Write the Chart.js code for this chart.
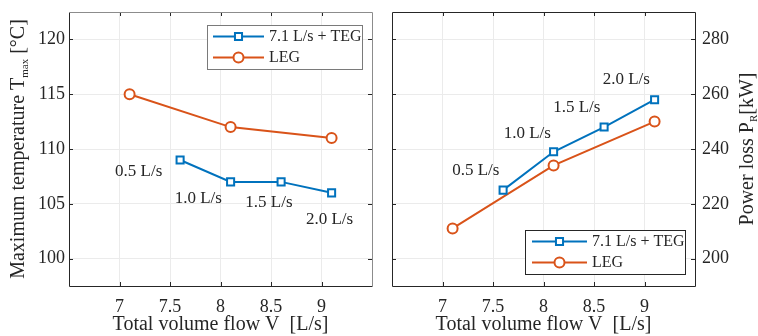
<!DOCTYPE html>
<html>
<head>
<meta charset="utf-8">
<script src="https://cdn.jsdelivr.net/npm/chart.js@4"></script>
<style>
  body { margin: 0; background: #fff; }
  #wrap { position: relative; width: 758px; height: 336px; }
  canvas { position: absolute; top: 0; }
</style>
</head>
<body>
<div id="wrap">
  <canvas id="tempChart" width="380" height="336" style="left:0"></canvas>
  <canvas id="powerChart" width="378" height="336" style="left:380px"></canvas>
</div>
<script>
// data
var xTicks = [7, 7.5, 8, 8.5, 9];
var tempTicks = [100, 105, 110, 115, 120];
var powerTicks = [200, 220, 240, 260, 280];
var tegFlow = [7.6, 8.1, 8.6, 9.1];
var legFlow = [7.1, 8.1, 9.1];
var tegTemp = [109, 107, 107, 106];
var legTemp = [115, 112, 111];
var tegPower = [225, 239, 248, 258];
var legPower = [211, 234, 250];
var extraFlow = ['0.5 L/s', '1.0 L/s', '1.5 L/s', '2.0 L/s'];
var seriesNames = ['7.1 L/s + TEG', 'LEG'];

var FONT = '"Liberation Serif", "DejaVu Serif", serif';
var INK = '#262626';
var BLUE = '#0072BD';
var ORANGE = '#D95319';

function pairs(xs, ys) {
  return xs.map(function (x, i) { return { x: x, y: ys[i] }; });
}

// draw text made of parts, some of them subscripts
function drawRich(ctx, parts, cx, cy, rot) {
  ctx.save();
  ctx.translate(cx, cy);
  ctx.rotate(rot);
  ctx.textBaseline = 'middle';
  ctx.textAlign = 'left';
  var w = 0;
  parts.forEach(function (p) {
    ctx.font = (p.sub ? 11 : 20) + 'px ' + FONT;
    w += ctx.measureText(p.t).width;
  });
  var x = -w / 2;
  parts.forEach(function (p) {
    ctx.font = (p.sub ? 11 : 20) + 'px ' + FONT;
    ctx.fillText(p.t, x, p.sub ? 6 : 0);
    x += ctx.measureText(p.t).width;
  });
  ctx.restore();
}

var decor = {
  id: 'decor',
  afterDraw: function (chart, args, o) {
    var ctx = chart.ctx, a = chart.chartArea;
    var xs = chart.scales.x, ys = chart.scales.y;
    ctx.save();

    // inward ticks
    ctx.strokeStyle = INK;
    ctx.lineWidth = 1;
    ctx.beginPath();
    xTicks.forEach(function (v) {
      var px = Math.round(xs.getPixelForValue(v)) + 0.5;
      ctx.moveTo(px, a.bottom); ctx.lineTo(px, a.bottom - 4);
      ctx.moveTo(px, a.top); ctx.lineTo(px, a.top + 4);
    });
    o.yTicks.forEach(function (v) {
      var py = Math.round(ys.getPixelForValue(v)) + 0.5;
      ctx.moveTo(a.left, py); ctx.lineTo(a.left + 4, py);
      ctx.moveTo(a.right, py); ctx.lineTo(a.right - 4, py);
    });
    ctx.stroke();

    // box
    var l = Math.round(a.left) + 0.5, r = Math.round(a.right) + 0.5;
    var t = Math.round(a.top) + 0.5, b = Math.round(a.bottom) + 0.5;
    ctx.strokeStyle = INK;
    ctx.beginPath();
    ctx.moveTo(l, t); ctx.lineTo(l, b); ctx.lineTo(r, b);
    if (o.yRight) { ctx.moveTo(r, b); ctx.lineTo(r, t); ctx.lineTo(l, t); }
    ctx.stroke();
    ctx.strokeStyle = o.yRight ? INK : '#8c8c8c';
    ctx.beginPath();
    if (!o.yRight) { ctx.moveTo(l, t); ctx.lineTo(r, t); ctx.lineTo(r, b); }
    ctx.stroke();

    // flow labels
    ctx.fillStyle = INK;
    ctx.font = '17px ' + FONT;
    ctx.textAlign = 'center';
    ctx.textBaseline = 'middle';
    extraFlow.forEach(function (s, i) {
      var p = o.labelAt[i];
      ctx.fillText(s, xs.getPixelForValue(p[0]), ys.getPixelForValue(p[1]));
    });

    // legend
    var lg = o.legend;
    var bx = a.right - lg.right - lg.w;
    var by = lg.top != null ? a.top + lg.top : a.bottom - lg.bottom - lg.h;
    ctx.fillStyle = '#fff';
    ctx.fillRect(bx, by, lg.w, lg.h);
    ctx.strokeStyle = lg.border;
    ctx.lineWidth = 1;
    ctx.strokeRect(Math.round(bx) + 0.5, Math.round(by) + 0.5, lg.w, lg.h);
    chart.data.datasets.forEach(function (ds, i) {
      var y = by + 11.5 + i * 21;
      ctx.strokeStyle = ds.borderColor;
      ctx.lineWidth = 2;
      ctx.beginPath();
      ctx.moveTo(bx + lg.l0, y); ctx.lineTo(bx + lg.l1, y);
      ctx.stroke();
      ctx.fillStyle = '#fff';
      Chart.helpers.drawPoint(ctx, {
        pointStyle: ds.pointStyle, radius: ds.pointRadius, borderWidth: 2, rotation: 0
      }, bx + (lg.l0 + lg.l1) / 2, y);
      ctx.fillStyle = INK;
      ctx.font = '16px ' + FONT;
      ctx.textAlign = 'left';
      ctx.fillText(ds.label, bx + lg.l1 + 5, y);
    });

    // axis titles
    ctx.fillStyle = INK;
    drawRich(ctx, [{ t: 'Total volume flow V  [L/s]' }], (a.left + a.right) / 2, 325, 0);
    drawRich(ctx, o.yTitle, o.yTitleX, (a.top + a.bottom) / 2, -Math.PI / 2);
    ctx.restore();
  }
};

function makeChart(id, c) {
  var tick = { color: INK, font: { family: FONT, size: 18 } };
  return new Chart(document.getElementById(id), {
    type: 'line',
    data: {
      datasets: [
        { label: seriesNames[0], data: pairs(tegFlow, c.teg), borderColor: BLUE, backgroundColor: '#fff',
          borderWidth: 2, pointStyle: 'rect', pointRadius: 5, pointBorderWidth: 2, pointHoverRadius: 5 },
        { label: seriesNames[1], data: pairs(legFlow, c.leg), borderColor: ORANGE, backgroundColor: '#fff',
          borderWidth: 2, pointStyle: 'circle', pointRadius: 5, pointBorderWidth: 2, pointHoverRadius: 5 }
      ]
    },
    options: {
      responsive: false,
      animation: false,
      events: [],
      layout: { padding: c.padding },
      plugins: {
        legend: { display: false },
        tooltip: { enabled: false },
        decor: c.decor
      },
      scales: {
        x: {
          type: 'linear', min: 6.5, max: 9.5,
          afterBuildTicks: function (s) { s.ticks = xTicks.map(function (v) { return { value: v }; }); },
          afterFit: function (s) { s.height = 50; s.paddingLeft = 0; s.paddingRight = 0; },
          grid: { color: '#ebebeb', drawTicks: false },
          border: { display: false },
          ticks: Object.assign({ padding: 10, maxRotation: 0, callback: function (v) { return String(v); } }, tick)
        },
        y: {
          position: c.yPos, min: c.yMin, max: c.yMax,
          afterBuildTicks: function (s) { s.ticks = c.yTicks.map(function (v) { return { value: v }; }); },
          afterFit: function (s) { s.width = c.yWidth; s.paddingTop = 0; s.paddingBottom = 0; },
          grid: { color: '#ebebeb', drawTicks: false },
          border: { display: false },
          ticks: Object.assign({ padding: c.yPad }, tick)
        }
      }
    },
    plugins: [decor]
  });
}

makeChart('tempChart', {
  teg: tegTemp, leg: legTemp, yMin: 97.5, yMax: 122.5, yTicks: tempTicks,
  yPos: 'left', yWidth: 69, yPad: 4,
  padding: { top: 12, right: 8, left: 0, bottom: 0 },
  decor: {
    yRight: false, yTicks: tempTicks, yTitleX: 19,
    yTitle: [{ t: 'Maximum temperature T' }, { t: 'max', sub: true }, { t: ' [°C]' }],
    labelAt: [[7.19, 107.95], [7.78, 105.5], [8.48, 105.1], [9.08, 103.6]],
    legend: { right: 10, top: 13, w: 155, h: 44, border: '#7a7a7a', l0: 6, l1: 57 }
  }
});

makeChart('powerChart', {
  teg: tegPower, leg: legPower, yMin: 190, yMax: 290, yTicks: powerTicks,
  yPos: 'right', yWidth: 63, yPad: 7,
  padding: { top: 12, right: 0, left: 12, bottom: 0 },
  decor: {
    yRight: true, yTicks: powerTicks, yTitleX: 368,
    yTitle: [{ t: 'Power loss P' }, { t: 'R', sub: true }, { t: '[kW]' }],
    labelAt: [[7.33, 232], [7.84, 245.8], [8.33, 255.3], [8.82, 265.2]],
    legend: { right: 10, bottom: 12, w: 160, h: 44, border: INK, l0: 7, l1: 62 }
  }
});
</script>
</body>
</html>
